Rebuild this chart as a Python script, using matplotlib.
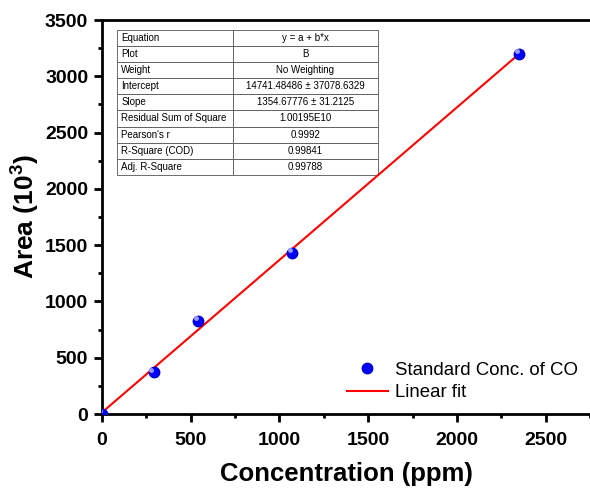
import numpy as np
import matplotlib
matplotlib.use('Agg')
from matplotlib import pyplot as plt

plt.rcParams['font.family'] = ['Liberation Sans', 'DejaVu Sans']
plt.rcParams['mathtext.fontset'] = 'custom'
plt.rcParams['mathtext.rm'] = 'Liberation Sans'
plt.rcParams['mathtext.bf'] = 'Liberation Sans:bold'

# calibration data (ppm, area in 10^3)
conc = [0, 290, 540, 1070, 2350]
area = [0, 370, 830, 1430, 3200]

# fit results (area in 10^3)
intercept = 14.74148486
slope = 1.35467776
fit_x = [0, 2350]

table_rows = [
    ['Equation', 'y = a + b*x'],
    ['Plot', 'B'],
    ['Weight', 'No Weighting'],
    ['Intercept', '14741.48486 \u00b1 37078.6329'],
    ['Slope', '1354.67776 \u00b1 31.2125'],
    ['Residual Sum of Square', '1.00195E10'],
    ["Pearson's r", '0.9992'],
    ['R-Square (COD)', '0.99841'],
    ['Adj. R-Square', '0.99788'],
]

fig = plt.figure(figsize=(5.9, 4.92), dpi=100)
ax = fig.add_axes([0.173, 0.1585, 0.827, 0.8008])

fx = np.array(fit_x)
ax.plot(fx, intercept + slope * fx, color='red', lw=1.5, label='Linear fit', zorder=2)
ax.plot(conc, area, 'o', color='#0000ff', markersize=7.5, markeredgecolor='#0000cc',
        label='Standard Conc. of CO', zorder=3)
# little highlight on the spheres
ax.plot(np.array(conc) - 12, np.array(area) + 25, 'o', color='#9a9aff', markersize=2.5,
        zorder=4)

ax.set_xlim(0, 2722)
ax.set_ylim(0, 3500)
ax.set_xticks(np.arange(0, 2501, 500))
ax.set_xticks(np.arange(250, 2751, 500), minor=True)
ax.set_yticks(np.arange(0, 3501, 500))
ax.set_yticks(np.arange(250, 3500, 500), minor=True)
ax.tick_params(which='major', direction='out', length=6, width=2, labelsize=14)
ax.tick_params(which='minor', direction='out', length=3, width=2)
ax.tick_params(axis='x', which='major', pad=7)
ax.tick_params(axis='y', which='major', pad=4)
for lab in ax.get_xticklabels() + ax.get_yticklabels():
    lab.set_fontweight('bold')
for s in ['left', 'bottom', 'top']:
    ax.spines[s].set_linewidth(2)
ax.spines['right'].set_visible(False)

ax.set_xlabel('Concentration (ppm)', fontsize=18.5, fontweight='bold', labelpad=9)
ax.set_ylabel(r'Area (10$^{\mathbf{3}}$)', fontsize=19, fontweight='bold', labelpad=3)

leg = ax.legend(handles=ax.get_lines()[1::-1], loc='lower right', frameon=False, fontsize=13.4,
                bbox_to_anchor=(1.01, -0.01), handlelength=2.2, handletextpad=0.4,
                labelspacing=0.3)

tab = ax.table(cellText=table_rows, cellLoc='center', colWidths=[116, 145],
               bbox=[0.03, 0.607, 0.535, 0.368])
tab.auto_set_font_size(False)
tab.set_fontsize(7)
for (r, c), cell in tab.get_celld().items():
    cell.set_linewidth(0.6)
    cell.set_edgecolor('#555555')
    if c == 0:
        cell.set_text_props(ha='left')
        cell.PAD = 0.04

fig.savefig('out.png', dpi=100)
